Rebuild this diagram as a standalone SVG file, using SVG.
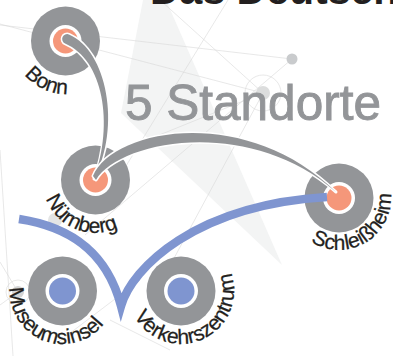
<svg xmlns="http://www.w3.org/2000/svg" width="393" height="356" viewBox="0 0 393 356">
<defs>
<style>
.bgl{stroke:#d9d9d9;stroke-width:0.6;fill:none}
.ring{fill:#939598}
.hole{fill:#ffffff}
.sal{fill:#f5977a}
.blu{fill:#7f95d0}
.lbl{font-family:"Liberation Sans",Arial,sans-serif;font-size:21px;fill:#231f20;stroke:#231f20;stroke-width:0.25}
.gcon{fill:#939598;stroke:#ffffff;stroke-width:3;paint-order:stroke fill;stroke-linejoin:round}
</style>
<path id="pBonn" d="M 34.7 -2.1 A 53 53 0 1 0 118.3 35.9"/>
<path id="pNue" d="M 62.9 138.2 A 53 53 0 1 0 148.0 172.6"/>
<path id="pSch" d="M 287.0 198.9 A 52 52 0 1 0 364.2 152.5"/>
<path id="pMus" d="M 29.2 249.8 A 53 53 0 1 0 114.9 282.7"/>
<path id="pVer" d="M 128.3 285.5 A 53 53 0 1 0 212.2 248.1"/>
</defs>
<rect width="393" height="356" fill="#ffffff"/>
<g id="background">
<polygon points="143,0 166,0 282,265 121,113" fill="#f3f4f4"/>
<line class="bgl" x1="0" y1="25" x2="292" y2="59"/>
<line class="bgl" x1="160" y1="0" x2="263" y2="93"/>
<line class="bgl" x1="228" y1="0" x2="110" y2="192"/>
<line class="bgl" x1="0" y1="24" x2="263" y2="93"/>
<line class="bgl" x1="292" y1="59" x2="85" y2="235"/>
<line class="bgl" x1="110" y1="155" x2="263" y2="93"/>
<line class="bgl" x1="263" y1="93" x2="165" y2="275"/>
<line class="bgl" x1="0" y1="150" x2="13" y2="356"/>
<line class="bgl" x1="0" y1="262" x2="18" y2="292"/>
<line class="bgl" x1="0" y1="305" x2="18" y2="292"/>
<line class="bgl" x1="57" y1="343" x2="140" y2="280"/>
<line class="bgl" x1="110" y1="320" x2="170" y2="350"/>
<circle cx="263" cy="93" r="18" class="bgl"/>
<circle cx="263" cy="93" r="7" fill="#dcdddd"/>
<circle cx="292" cy="59" r="5.5" fill="#c9cbcd"/>
<circle cx="55" cy="220" r="7" fill="#e4e5e5"/>
<circle cx="18" cy="292" r="12" class="bgl"/>
<circle cx="18" cy="292" r="6" fill="#d3d4d5"/>
</g>
<text x="150" y="4" font-family="'Liberation Sans',Arial,sans-serif" font-size="41" font-weight="bold" fill="#231f20">Das Deutsch</text>
<text x="125" y="119.5" font-family="'Liberation Sans',Arial,sans-serif" font-size="49.5" fill="#939598" stroke="#939598" stroke-width="0.9">5 Standorte</text>
<g id="node-bonn">
<circle cx="65.5" cy="41" r="34.5" class="ring"/>
<circle cx="65.5" cy="41" r="16" class="hole"/>
<circle cx="65.5" cy="41" r="12.5" class="sal"/>
<text class="lbl"><textPath href="#pBonn" startOffset="50%" text-anchor="middle">Bonn</textPath></text>
</g>
<g id="node-nuernberg">
<circle cx="95.5" cy="180" r="34.5" class="ring"/>
<circle cx="95.5" cy="180" r="16" class="hole"/>
<circle cx="95.5" cy="180" r="12.5" class="sal"/>
<text class="lbl"><textPath href="#pNue" startOffset="50%" text-anchor="middle">Nürnberg</textPath></text>
</g>
<g id="node-schleissheim">
<circle cx="339" cy="198" r="34.5" class="ring"/>
<circle cx="339" cy="198" r="16" class="hole"/>
<circle cx="339" cy="198" r="12.5" class="sal"/>
<text class="lbl"><textPath href="#pSch" startOffset="50%" text-anchor="middle">Schleißheim</textPath></text>
</g>
<g id="node-museumsinsel">
<circle cx="62.5" cy="291" r="34.5" class="ring"/>
<circle cx="62.5" cy="291" r="17" class="hole"/>
<circle cx="62.5" cy="291" r="13.5" class="blu"/>
<text class="lbl"><textPath href="#pMus" startOffset="50%" text-anchor="middle">Museumsinsel</textPath></text>
</g>
<g id="node-verkehrszentrum">
<circle cx="181" cy="291" r="34.5" class="ring"/>
<circle cx="181" cy="291" r="17" class="hole"/>
<circle cx="181" cy="291" r="13.5" class="blu"/>
<text class="lbl"><textPath href="#pVer" startOffset="50%" text-anchor="middle">Verkehrszentrum</textPath></text>
</g>
<g id="connectors">
<path d="M 19 219 C 65 226, 106 248, 121 306 C 132 268, 195 205, 327 197" fill="none" stroke="#7f95d0" stroke-width="8.5" stroke-linejoin="miter" stroke-miterlimit="10"/>
<path class="gcon" d="M 65.05 43.6 A 5 5 0 0 1 68.95 34.4 C 106.95 50.4 121.66 126.6 94 179 C 114.34 123.4 103.05 59.6 65.05 43.6 Z"/>
<path class="gcon" d="M 93 176 C 112 129, 245 103, 336 192 C 248 115, 119 141, 96 180 Z"/>
</g>
</svg>
